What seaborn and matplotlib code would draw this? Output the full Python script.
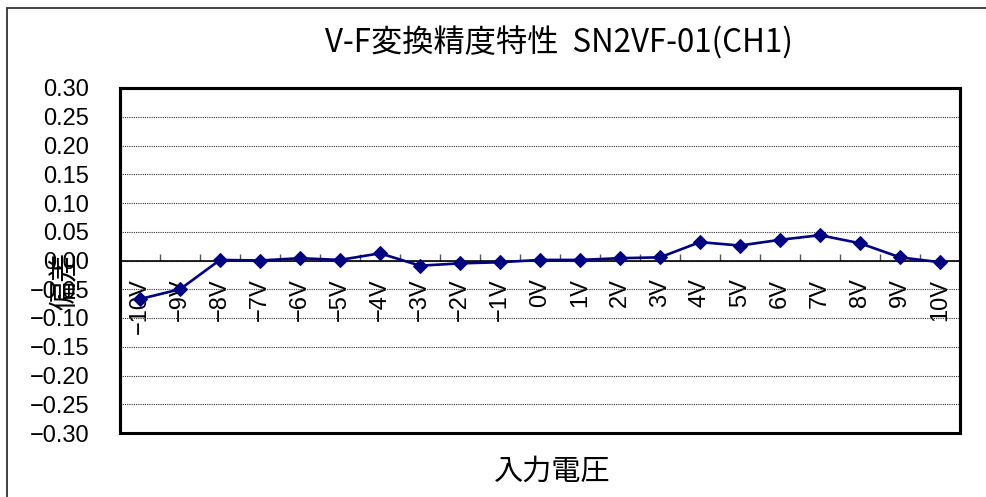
"""
V-F conversion accuracy chart (SN2VF-01, CH1): deviation against input voltage,
drawn in the look of a spreadsheet line chart with the category axis at zero.
"""

import numpy as np
import pandas as pd
import seaborn as sns
import matplotlib.pyplot as plt
from matplotlib.patches import Rectangle
from matplotlib.ticker import FuncFormatter

sns.set_theme(style="white")
plt.rcParams["font.family"] = ["Liberation Sans", "Noto Sans CJK JP",
                               "DejaVu Sans"]

# data
voltage_labels = ["−10V", "−9V", "−8V", "−7V", "−6V", "−5V", "−4V", "−3V",
                  "−2V", "−1V", "0V", "1V", "2V", "3V", "4V", "5V", "6V",
                  "7V", "8V", "9V", "10V"]
deviation = [-0.067, -0.050, 0.001, 0.000, 0.004, 0.001, 0.0125, -0.009,
             -0.005, -0.003, 0.001, 0.001, 0.004, 0.0055, 0.032, 0.026,
             0.036, 0.044, 0.030, 0.0055, -0.003]
y_ticks = [-0.30, -0.25, -0.20, -0.15, -0.10, -0.05, 0.0,
           0.05, 0.10, 0.15, 0.20, 0.25, 0.30]

title = "V-F変換精度特性  SN2VF-01(CH1)"
x_title = "入力電圧"
y_title = "偏差"


def minus_fmt(v, pos):
    """Two decimals with a real minus sign, like the original chart."""
    return f"{v:.2f}".replace("-", "−")


def draw_chart(data: pd.DataFrame) -> None:
    fig = plt.figure(figsize=(9.87, 4.97), dpi=100)
    ax = fig.add_axes([120 / 987, 1 - 433 / 497, 840 / 987, 345 / 497])

    sns.lineplot(data=data, x="pos", y="dev", color="#000080",
                 linewidth=1.9, marker="D", markersize=7.5,
                 markeredgecolor="#000080", ax=ax, zorder=5)

    # y axis: fixed range, dotted gridlines, no tick marks
    ax.set_ylim(-0.30, 0.30)
    ax.set_yticks(y_ticks)
    ax.yaxis.set_major_formatter(FuncFormatter(minus_fmt))
    ax.yaxis.grid(True, color="#303030", linestyle=(0, (1, 1)),
                  linewidth=0.8)
    ax.tick_params(axis="y", length=0, pad=22, labelsize=17,
                   labelcolor="black")

    # category axis sits on the zero line
    n = len(voltage_labels)
    ax.set_xlim(-0.5, n - 0.5)
    ax.set_xticks(np.arange(n + 1) - 0.5, labels=[])
    ax.set_xticks(np.arange(n), labels=voltage_labels, minor=True)
    ax.tick_params(axis="x", which="major", bottom=True, direction="in",
                   length=5, width=1, color="#555555")
    ax.tick_params(axis="x", which="minor", bottom=True, length=0, pad=13,
                   labelsize=17, labelrotation=90, labelcolor="black")
    ax.xaxis.grid(False)

    ax.spines["bottom"].set_position(("data", 0))
    ax.spines["bottom"].set_color("black")
    ax.spines["bottom"].set_linewidth(1.2)
    for side in ["left", "right", "top"]:
        ax.spines[side].set_color("black")
        ax.spines[side].set_linewidth(2.2)
    ax.patch.set_edgecolor("black")
    ax.patch.set_linewidth(2.2)

    ax.set_ylabel(y_title, fontsize=21, va="center", color="black")
    ax.yaxis.set_label_coords(-0.065, 0.44)
    ax.set_xlabel(x_title, fontsize=21, va="center", color="black")
    ax.xaxis.set_label_coords(0.515, -0.113)
    ax.set_title(title, fontsize=22.5, x=0.5226, y=1.107, va="center",
                 color="black", family=["Noto Sans CJK JP", "DejaVu Sans"])

    # outer chart frame (only the left and top edges are in view)
    fig.add_artist(Rectangle((7 / 987, -0.5), 2, 1.5 - 8 / 497,
                             transform=fig.transFigure, fill=False,
                             edgecolor="#333333", linewidth=1.3))

    fig.savefig("out.png", dpi=100)


def main():
    data = pd.DataFrame({"pos": np.arange(len(voltage_labels)),
                         "dev": deviation})
    draw_chart(data)


if __name__ == '__main__':
    main()
